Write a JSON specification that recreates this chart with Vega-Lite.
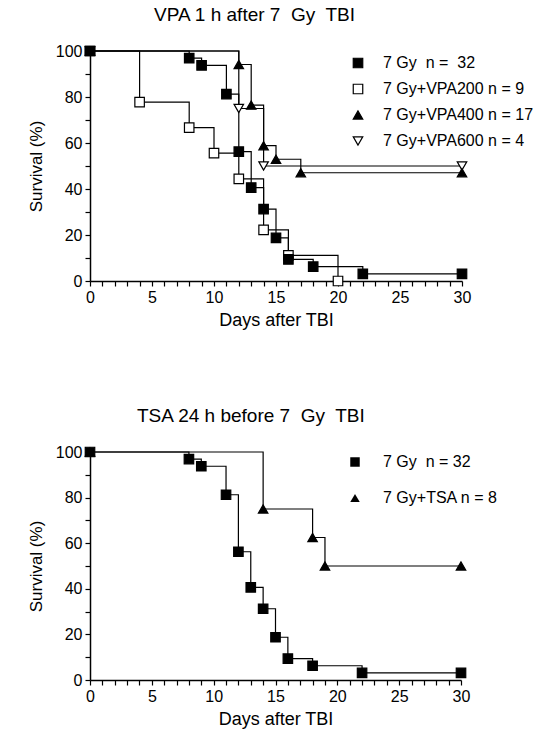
{
  "$schema": "https://vega.github.io/schema/vega-lite/v6.json",
  "padding": {"left": 27, "top": 6, "right": 5, "bottom": 5},
  "background": "white",
  "datasets": {
    "top": [
      {"series": "7 Gy+VPA200 n = 9", "day": 0, "surv": 100},
      {"series": "7 Gy+VPA200 n = 9", "day": 4, "surv": 77.78},
      {"series": "7 Gy+VPA200 n = 9", "day": 8, "surv": 66.67},
      {"series": "7 Gy+VPA200 n = 9", "day": 10, "surv": 55.56},
      {"series": "7 Gy+VPA200 n = 9", "day": 12, "surv": 44.44},
      {"series": "7 Gy+VPA200 n = 9", "day": 14, "surv": 22.22},
      {"series": "7 Gy+VPA200 n = 9", "day": 16, "surv": 11.11},
      {"series": "7 Gy+VPA200 n = 9", "day": 20, "surv": 0},
      {"series": "7 Gy+VPA600 n = 4", "day": 0, "surv": 100},
      {"series": "7 Gy+VPA600 n = 4", "day": 12, "surv": 75},
      {"series": "7 Gy+VPA600 n = 4", "day": 14, "surv": 50},
      {"series": "7 Gy+VPA600 n = 4", "day": 30, "surv": 50},
      {"series": "7 Gy+VPA400 n = 17", "day": 0, "surv": 100},
      {"series": "7 Gy+VPA400 n = 17", "day": 12, "surv": 94.12},
      {"series": "7 Gy+VPA400 n = 17", "day": 13, "surv": 76.47},
      {"series": "7 Gy+VPA400 n = 17", "day": 14, "surv": 58.82},
      {"series": "7 Gy+VPA400 n = 17", "day": 15, "surv": 52.94},
      {"series": "7 Gy+VPA400 n = 17", "day": 17, "surv": 47.06},
      {"series": "7 Gy+VPA400 n = 17", "day": 30, "surv": 47.06},
      {"series": "7 Gy\u00a0 n =\u00a0 32", "day": 0, "surv": 100},
      {"series": "7 Gy\u00a0 n =\u00a0 32", "day": 8, "surv": 96.875},
      {"series": "7 Gy\u00a0 n =\u00a0 32", "day": 9, "surv": 93.75},
      {"series": "7 Gy\u00a0 n =\u00a0 32", "day": 11, "surv": 81.25},
      {"series": "7 Gy\u00a0 n =\u00a0 32", "day": 12, "surv": 56.25},
      {"series": "7 Gy\u00a0 n =\u00a0 32", "day": 13, "surv": 40.625},
      {"series": "7 Gy\u00a0 n =\u00a0 32", "day": 14, "surv": 31.25},
      {"series": "7 Gy\u00a0 n =\u00a0 32", "day": 15, "surv": 18.75},
      {"series": "7 Gy\u00a0 n =\u00a0 32", "day": 16, "surv": 9.375},
      {"series": "7 Gy\u00a0 n =\u00a0 32", "day": 18, "surv": 6.25},
      {"series": "7 Gy\u00a0 n =\u00a0 32", "day": 22, "surv": 3.125},
      {"series": "7 Gy\u00a0 n =\u00a0 32", "day": 30, "surv": 3.125}
    ],
    "bottom": [
      {"series": "7 Gy+TSA n = 8", "day": 0, "surv": 100},
      {"series": "7 Gy+TSA n = 8", "day": 14, "surv": 75},
      {"series": "7 Gy+TSA n = 8", "day": 18, "surv": 62.5},
      {"series": "7 Gy+TSA n = 8", "day": 19, "surv": 50},
      {"series": "7 Gy+TSA n = 8", "day": 30, "surv": 50},
      {"series": "7 Gy\u00a0 n = 32", "day": 0, "surv": 100},
      {"series": "7 Gy\u00a0 n = 32", "day": 8, "surv": 96.875},
      {"series": "7 Gy\u00a0 n = 32", "day": 9, "surv": 93.75},
      {"series": "7 Gy\u00a0 n = 32", "day": 11, "surv": 81.25},
      {"series": "7 Gy\u00a0 n = 32", "day": 12, "surv": 56.25},
      {"series": "7 Gy\u00a0 n = 32", "day": 13, "surv": 40.625},
      {"series": "7 Gy\u00a0 n = 32", "day": 14, "surv": 31.25},
      {"series": "7 Gy\u00a0 n = 32", "day": 15, "surv": 18.75},
      {"series": "7 Gy\u00a0 n = 32", "day": 16, "surv": 9.375},
      {"series": "7 Gy\u00a0 n = 32", "day": 18, "surv": 6.25},
      {"series": "7 Gy\u00a0 n = 32", "day": 22, "surv": 3.125},
      {"series": "7 Gy\u00a0 n = 32", "day": 30, "surv": 3.125}
    ]
  },
  "spacing": 78,
  "vconcat": [
    {
      "width": 372,
      "height": 230,
      "title": {"text": "VPA 1 h after 7\u00a0 Gy\u00a0 TBI", "dx": 64},
      "data": {"name": "top"},
      "encoding": {
        "x": {"field": "day", "type": "quantitative",
          "scale": {"domain": [0, 30], "nice": false, "zero": false},
          "axis": {"title": "Days after TBI", "values": [0,1,2,3,4,5,6,7,8,9,10,11,12,13,14,15,16,17,18,19,20,21,22,23,24,25,26,27,28,29,30],
            "labelExpr": "datum.value % 5 === 0 ? datum.label : ''"}},
        "y": {"field": "surv", "type": "quantitative",
          "scale": {"domain": [0, 100], "nice": false},
          "axis": {"title": "Survival (%)", "values": [0,10,20,30,40,50,60,70,80,90,100],
            "labelExpr": "datum.value % 20 === 0 ? datum.label : ''"}}
      },
      "layer": [
        {"mark": {"type": "line", "interpolate": "step-after", "color": "black", "strokeWidth": 1.2, "clip": false},
         "encoding": {"detail": {"field": "series"}}},
        {"mark": {"type": "point", "filled": true, "strokeWidth": 1.2, "size": 90, "opacity": 1, "clip": false},
         "encoding": {
           "shape": {"field": "series", "type": "nominal",
             "scale": {"domain": ["7 Gy\u00a0 n =\u00a0 32", "7 Gy+VPA200 n = 9", "7 Gy+VPA400 n = 17", "7 Gy+VPA600 n = 4"],
               "range": ["square", "square", "triangle-up", "triangle-down"]},
             "legend": {"title": null, "orient": "none", "legendX": 260, "legendY": 4, "rowPadding": 10, "labelOffset": 17, "padding": 0}},
           "fill": {"field": "series", "type": "nominal",
             "scale": {"domain": ["7 Gy\u00a0 n =\u00a0 32", "7 Gy+VPA200 n = 9", "7 Gy+VPA400 n = 17", "7 Gy+VPA600 n = 4"],
               "range": ["black", "white", "black", "white"]},
             "legend": {"title": null, "orient": "none", "legendX": 260, "legendY": 4, "rowPadding": 10, "labelOffset": 17, "padding": 0}},
           "stroke": {"field": "series", "type": "nominal",
             "scale": {"domain": ["7 Gy\u00a0 n =\u00a0 32", "7 Gy+VPA200 n = 9", "7 Gy+VPA400 n = 17", "7 Gy+VPA600 n = 4"],
               "range": ["black", "black", "black", "black"]},
             "legend": {"title": null, "orient": "none", "legendX": 260, "legendY": 4, "rowPadding": 10, "labelOffset": 17, "padding": 0}}
         }}
      ]
    },
    {
      "width": 371,
      "height": 228,
      "title": {"text": "TSA 24 h before 7\u00a0 Gy\u00a0 TBI", "dx": 47},
      "data": {"name": "bottom"},
      "encoding": {
        "x": {"field": "day", "type": "quantitative",
          "scale": {"domain": [0, 30], "nice": false, "zero": false},
          "axis": {"title": "Days after TBI", "values": [0,1,2,3,4,5,6,7,8,9,10,11,12,13,14,15,16,17,18,19,20,21,22,23,24,25,26,27,28,29,30],
            "labelExpr": "datum.value % 5 === 0 ? datum.label : ''"}},
        "y": {"field": "surv", "type": "quantitative",
          "scale": {"domain": [0, 100], "nice": false},
          "axis": {"title": "Survival (%)", "values": [0,10,20,30,40,50,60,70,80,90,100],
            "labelExpr": "datum.value % 20 === 0 ? datum.label : ''"}}
      },
      "layer": [
        {"mark": {"type": "line", "interpolate": "step-after", "color": "black", "strokeWidth": 1.2, "clip": false},
         "encoding": {"detail": {"field": "series"}}},
        {"mark": {"type": "point", "filled": true, "stroke": "black", "strokeWidth": 1.2, "size": 90, "opacity": 1, "clip": false},
         "encoding": {
           "shape": {"field": "series", "type": "nominal",
             "scale": {"domain": ["7 Gy\u00a0 n = 32", "7 Gy+TSA n = 8"], "range": ["square", "triangle-up"]},
             "legend": {"title": null, "orient": "none", "legendX": 257, "legendY": 2, "rowPadding": 20, "labelOffset": 20, "padding": 0}},
           "fill": {"field": "series", "type": "nominal",
             "scale": {"domain": ["7 Gy\u00a0 n = 32", "7 Gy+TSA n = 8"], "range": ["black", "black"]},
             "legend": {"title": null, "orient": "none", "legendX": 257, "legendY": 2, "rowPadding": 20, "labelOffset": 20, "padding": 0}}
         }}
      ]
    }
  ],
  "resolve": {"scale": {"shape": "independent", "fill": "independent", "stroke": "independent"}, "legend": {"shape": "independent", "fill": "independent", "stroke": "independent"}},
  "config": {
    "view": {"stroke": null},
    "font": "Liberation Sans",
    "title": {"font": "Liberation Sans", "fontSize": 19, "fontWeight": "normal", "color": "black", "anchor": "start", "frame": "group", "offset": 18},
    "axis": {
      "domainColor": "black", "domainWidth": 1.5, "tickColor": "black", "tickWidth": 1.2, "tickSize": 5,
      "labelColor": "black", "labelFont": "Liberation Sans", "labelFontSize": 16, "labelPadding": 3,
      "labelOverlap": false, "labelBound": false, "labelFlush": false,
      "titleColor": "black", "titleFont": "Liberation Sans", "titleFontWeight": "normal",
      "grid": false
    },
    "axisX": {"titleFontSize": 18, "titlePadding": 6},
    "axisY": {"titleFontSize": 17, "titlePadding": 10},
    "legend": {"labelFont": "Liberation Sans", "labelFontSize": 16, "labelColor": "black",
      "symbolStrokeColor": "black", "symbolStrokeWidth": 1.2, "symbolSize": 90, "labelLimit": 300}
  }
}
